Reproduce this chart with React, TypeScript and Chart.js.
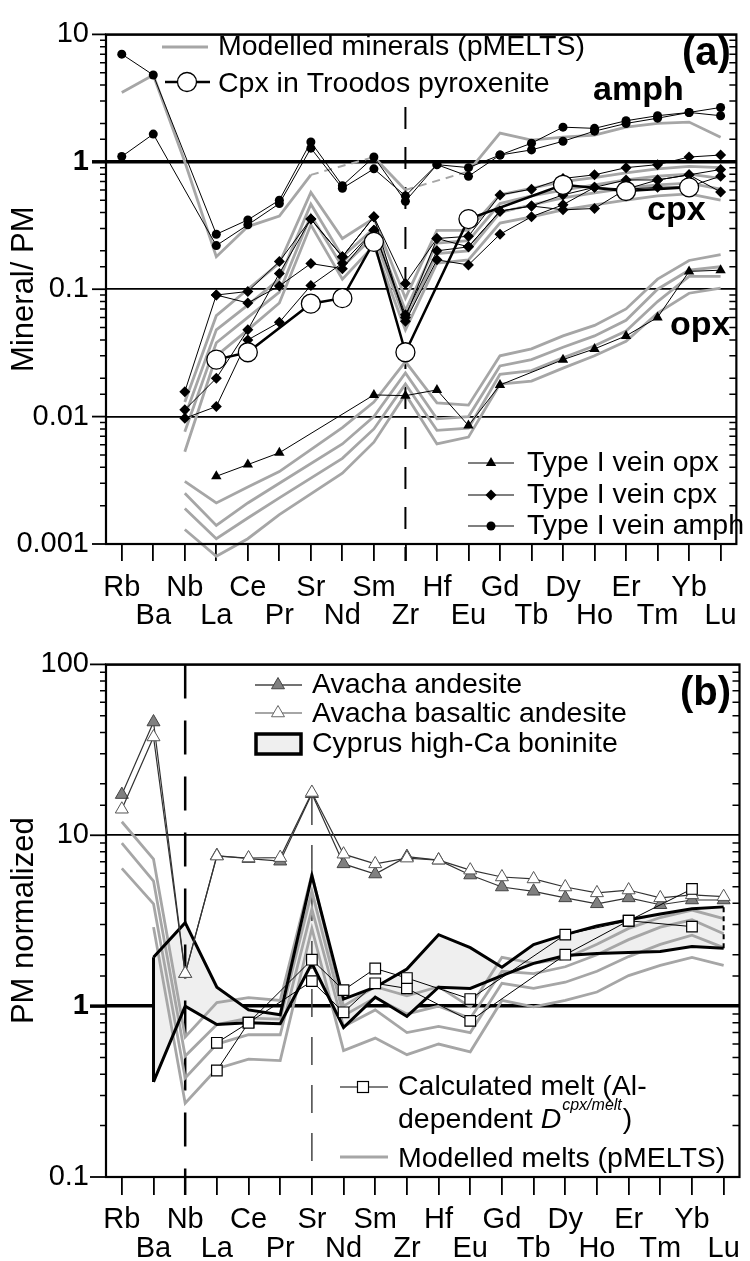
import React, { useEffect, useRef } from 'react';
import { Chart, registerables } from 'chart.js';

Chart.register(...registerables);

const FONT = '"Liberation Sans", Arial, Helvetica, sans-serif';
const MODEL_GRAY = '#a6a6a6';
const LEG = 28.5;

// ---------- categories & ticks ----------
const elements = ['Rb', 'Ba', 'Nb', 'La', 'Ce', 'Pr', 'Sr', 'Nd', 'Sm', 'Zr', 'Hf', 'Eu', 'Gd', 'Tb', 'Dy', 'Ho', 'Er', 'Tm', 'Yb', 'Lu'];
const yTickValuesA = [0.001, 0.01, 0.1, 1, 10];
const yTickLabelsA = ['0.001', '0.01', '0.1', '1', '10'];
const yTickValuesB = [0.1, 1, 10, 100];
const yTickLabelsB = ['0.1', '1', '10', '100'];

// ---------- panel (a): mineral / PM ----------
//                     Rb    Ba    Nb     La     Ce     Pr     Sr     Nd     Sm     Zr     Hf     Eu     Gd     Tb     Dy     Ho     Er     Tm     Yb     Lu
const veinAmph1 = [7.0, 4.8, null, 0.27, 0.35, 0.50, 1.43, 0.65, 1.09, 0.49, 0.95, 0.90, 1.13, 1.40, 1.87, 1.83, 2.10, 2.30, 2.44, 2.67];
const veinAmph2 = [1.1, 1.65, null, 0.22, 0.32, 0.47, 1.28, 0.62, 0.88, 0.54, 0.95, 0.77, 1.13, 1.24, 1.45, 1.74, 2.00, 2.20, 2.44, 2.30];
const veinCpx1 = [null, null, 0.0157, 0.090, 0.096, 0.165, 0.355, 0.18, 0.37, 0.111, 0.25, 0.26, 0.55, 0.61, 0.74, 0.79, 0.90, 0.95, 1.09, 1.13];
const veinCpx2 = [null, null, null, 0.090, 0.078, 0.106, 0.159, 0.145, 0.29, 0.063, 0.20, 0.215, 0.41, 0.45, 0.55, 0.63, 0.72, 0.72, 0.79, 0.87];
const veinCpx3 = [null, null, 0.0113, 0.020, 0.048, 0.133, 0.355, 0.18, 0.37, 0.056, 0.17, 0.155, 0.27, 0.37, 0.46, 0.63, 0.61, 0.63, 0.64, 0.77];
const veinCpx4 = [null, null, 0.0097, 0.012, 0.040, 0.055, 0.107, 0.16, 0.29, 0.060, 0.25, 0.215, 0.41, 0.45, 0.42, 0.43, 0.61, 0.72, 0.79, 0.58];
const veinOpx = [null, null, null, 0.0034, 0.0042, 0.0052, null, null, 0.0148, 0.0146, 0.0162, 0.0085, 0.0177, null, 0.028, 0.034, 0.043, 0.060, 0.138, 0.141];
const troodosCpx = [null, null, null, 0.028, 0.032, null, 0.077, 0.085, 0.235, 0.032, null, 0.355, null, null, 0.66, null, 0.59, null, 0.63, null];
const modelAmph = [3.5, 4.8, 1.0, 0.18, 0.31, 0.375, 0.79, null, 1.09, 0.60, null, 0.84, 1.68, 1.48, 1.56, 1.62, 1.87, 2.0, 2.05, 1.56];
const modelCpx1 = [null, null, 0.013, 0.062, 0.10, 0.16, 0.575, 0.25, 0.36, 0.085, 0.29, 0.29, 0.55, 0.62, 0.70, 0.75, 0.82, 0.88, 0.92, 0.90];
const modelCpx2 = [null, null, 0.010, 0.048, 0.075, 0.12, 0.465, 0.18, 0.30, 0.068, 0.23, 0.24, 0.47, 0.54, 0.60, 0.66, 0.72, 0.77, 0.80, 0.74];
const modelCpx3 = [null, null, 0.0076, 0.038, 0.060, 0.095, 0.38, 0.15, 0.26, 0.057, 0.19, 0.20, 0.40, 0.46, 0.52, 0.57, 0.62, 0.66, 0.68, 0.61];
const modelCpx4 = [null, null, 0.0053, 0.030, 0.048, 0.078, 0.32, 0.12, 0.22, 0.048, 0.16, 0.17, 0.33, 0.37, 0.42, 0.46, 0.50, 0.54, 0.56, 0.50];
const modelOpx1 = [null, null, 0.0031, 0.0021, 0.0028, 0.0037, null, 0.0082, 0.013, 0.027, 0.0128, 0.0123, 0.030, 0.034, 0.043, 0.052, 0.070, 0.12, 0.168, 0.187];
const modelOpx2 = [null, null, 0.0025, 0.0014, 0.0021, 0.0030, null, 0.0061, 0.010, 0.022, 0.0096, 0.0100, 0.025, 0.028, 0.035, 0.043, 0.057, 0.10, 0.141, 0.150];
const modelOpx3 = [null, null, 0.0019, 0.0011, 0.0016, 0.0023, null, 0.0047, 0.008, 0.018, 0.0078, 0.0081, 0.0215, 0.023, 0.029, 0.036, 0.047, 0.08, 0.126, 0.126];
const modelOpx4 = [null, null, 0.0013, 0.0008, 0.0011, 0.0017, null, 0.0036, 0.0063, 0.015, 0.0061, 0.0069, 0.018, 0.019, 0.024, 0.030, 0.039, 0.065, 0.093, 0.102];

// ---------- panel (b): PM normalized ----------
const avachaAndesite = [17.3, 46, 1.55, 7.6, 7.3, 7.05, 17.5, 6.8, 5.93, 7.5, 7.15, 5.85, 4.98, 4.7, 4.3, 3.97, 4.3, 3.92, 4.18, 4.18];
const avachaBasAndesite = [14.2, 37.6, 1.55, 7.55, 7.36, 7.4, 17.8, 7.75, 6.8, 7.35, 7.15, 6.25, 5.7, 5.55, 4.98, 4.6, 4.78, 4.3, 4.48, 4.37];
const boniniteUpper = [null, 1.93, 3.08, 1.29, 0.95, 0.89, 5.8, 1.1, 1.29, 1.65, 2.62, 2.2, 1.69, 2.29, 2.62, 2.95, 3.2, 3.46, 3.71, 3.81];
const boniniteLower = [null, 0.36, 1.0, 0.78, 0.80, 0.79, 1.78, 0.75, 1.13, 0.87, 1.29, 1.27, 1.51, 1.78, 1.98, 2.03, 2.06, 2.09, 2.23, 2.18];
const calcMelt1 = [null, null, null, 0.61, 0.80, null, 1.87, 1.24, 1.66, 1.46, null, 1.10, null, null, 2.62, null, 3.16, null, 2.92, null];
const calcMelt2 = [null, null, null, 0.42, 0.80, null, 1.40, 0.92, 1.36, 1.27, null, 0.82, null, null, 2.00, null, 3.16, null, 4.85, null];
const modelMelt1 = [12, 7.25, 0.66, 1.05, 1.12, 1.08, 5.9, 1.0, 1.3, 1.15, 1.3, 0.99, 1.93, 1.78, 1.9, 2.3, 2.85, 3.3, 3.65, 3.25];
const modelMelt2 = [9, 5.4, 0.51, 0.78, 0.85, 0.84, 4.7, 0.88, 1.12, 0.9, 1.0, 0.85, 1.6, 1.55, 1.7, 2.0, 2.45, 2.9, 3.2, 2.65];
const modelMelt3 = [6.4, 3.97, 0.38, 0.6, 0.68, 0.68, 3.7, 0.76, 0.95, 0.7, 0.76, 0.7, 1.36, 1.27, 1.38, 1.6, 1.95, 2.3, 2.6, 2.2];
const modelMelt4 = [null, 2.9, 0.27, 0.43, 0.49, 0.48, 2.85, 0.55, 0.65, 0.52, 0.6, 0.54, 1.08, 0.99, 1.08, 1.21, 1.51, 1.73, 1.93, 1.73];

// ---------- helpers ----------
function isDecade(v: number) {
  const l = Math.log10(v);
  return Math.abs(l - Math.round(l)) < 1e-6;
}
function isOne(v: number) {
  return Math.abs(v - 1) < 1e-9;
}
function decadeLabel(v: number, values: number[], labels: string[]) {
  for (let i = 0; i < values.length; i++) {
    if (Math.abs(Math.log10(v / values[i])) < 1e-6) return labels[i];
  }
  return '';
}

function yScale(min: number, max: number, values: number[], labels: string[], title: string) {
  return {
    type: 'logarithmic',
    min,
    max,
    afterFit: (s: any) => {
      s.width = 106;
    },
    border: { display: false },
    grid: {
      drawTicks: false,
      color: (c: any) => (c.tick && isDecade(c.tick.value) ? '#000' : 'rgba(0,0,0,0)'),
      lineWidth: (c: any) => (c.tick && isDecade(c.tick.value) ? (isOne(c.tick.value) ? 3.5 : 1.8) : 0),
    },
    ticks: {
      autoSkip: false,
      padding: 17,
      color: '#000',
      font: (c: any) => ({ family: FONT, size: 29, weight: c.tick && isOne(c.tick.value) ? 'bold' : 'normal' }),
      callback: (v: any) => decadeLabel(Number(v), values, labels),
    },
    title: {
      display: true,
      text: title,
      color: '#000',
      font: { family: FONT, size: 31, lineHeight: 1.2 },
      padding: { top: 6, bottom: 0 },
    },
  };
}

function xScale(height: number, tickLen: number, pad: number, lh: string) {
  return {
    type: 'category',
    offset: true,
    afterFit: (s: any) => {
      s.height = height;
    },
    border: { display: false },
    grid: {
      drawOnChartArea: false,
      drawTicks: true,
      tickLength: tickLen,
      tickWidth: 1.8,
      tickColor: '#000',
      color: '#000',
      lineWidth: 1.8,
    },
    ticks: {
      autoSkip: false,
      maxRotation: 0,
      minRotation: 0,
      padding: pad,
      color: '#000',
      font: { family: FONT, size: 29, lineHeight: lh },
      callback: (_v: any, i: number) => (i % 2 === 0 ? [elements[i], ''] : ['', elements[i]]),
    },
  };
}

function drawAxesDecor(chart: any, majorLen: number) {
  const { ctx, chartArea: a } = chart;
  const ys = chart.scales.y;
  ctx.save();
  ctx.strokeStyle = '#000';
  for (const t of ys.ticks) {
    const py = ys.getPixelForValue(t.value);
    if (py < a.top - 0.5 || py > a.bottom + 0.5) continue;
    ctx.beginPath();
    if (isDecade(t.value)) {
      ctx.lineWidth = isOne(t.value) ? 3.5 : 1.8;
      ctx.moveTo(a.left - majorLen, py);
      ctx.lineTo(a.left, py);
    } else {
      ctx.lineWidth = 1.5;
      ctx.moveTo(a.left - 6, py);
      ctx.lineTo(a.left, py);
      ctx.moveTo(a.right - 7, py);
      ctx.lineTo(a.right, py);
    }
    ctx.stroke();
  }
  ctx.lineWidth = 2.2;
  ctx.strokeRect(a.left, a.top, a.right - a.left, a.bottom - a.top);
  ctx.restore();
}

function txt(ctx: CanvasRenderingContext2D, s: string, x: number, y: number, size: number, weight = 'normal', style = 'normal') {
  ctx.font = `${style} ${weight} ${size}px ${FONT}`;
  ctx.fillStyle = '#000';
  ctx.textAlign = 'left';
  ctx.textBaseline = 'alphabetic';
  ctx.fillText(s, x, y);
  return ctx.measureText(s).width;
}

function hline(ctx: CanvasRenderingContext2D, x1: number, x2: number, y: number, color: string, w: number) {
  ctx.beginPath();
  ctx.strokeStyle = color;
  ctx.lineWidth = w;
  ctx.moveTo(x1, y);
  ctx.lineTo(x2, y);
  ctx.stroke();
}

function tri(ctx: CanvasRenderingContext2D, x: number, y: number, r: number, fill: string, stroke: string | null) {
  ctx.beginPath();
  ctx.moveTo(x, y - r);
  ctx.lineTo(x + r * 0.866, y + r * 0.5);
  ctx.lineTo(x - r * 0.866, y + r * 0.5);
  ctx.closePath();
  ctx.fillStyle = fill;
  ctx.fill();
  if (stroke) {
    ctx.strokeStyle = stroke;
    ctx.lineWidth = 1;
    ctx.stroke();
  }
}

function vdash(ctx: CanvasRenderingContext2D, x: number, y1: number, y2: number, color: string, w: number, dash: number[]) {
  ctx.save();
  ctx.strokeStyle = color;
  ctx.lineWidth = w;
  ctx.setLineDash(dash);
  ctx.beginPath();
  ctx.moveTo(x, y1);
  ctx.lineTo(x, y2);
  ctx.stroke();
  ctx.restore();
}

// ---------- panel (a) plugin ----------
const extrasA = {
  id: 'extrasA',
  beforeDatasetsDraw(chart: any) {
    const xz = chart.scales.x.getPixelForValue(elements.indexOf('Zr'));
    vdash(chart.ctx, xz, 107, chart.chartArea.bottom + 17, '#000', 2, [22, 18]);
  },
  afterDraw(chart: any) {
    const ctx = chart.ctx as CanvasRenderingContext2D;
    drawAxesDecor(chart, 14);
    ctx.save();
    // top legend
    hline(ctx, 162, 208, 47, MODEL_GRAY, 3);
    txt(ctx, 'Modelled minerals (pMELTS)', 218, 55, LEG);
    hline(ctx, 165, 210, 82, '#000', 2.5);
    ctx.beginPath();
    ctx.arc(187, 82, 9.5, 0, Math.PI * 2);
    ctx.fillStyle = '#fff';
    ctx.fill();
    ctx.strokeStyle = '#000';
    ctx.lineWidth = 1.3;
    ctx.stroke();
    txt(ctx, 'Cpx in Troodos pyroxenite', 218, 92, LEG);
    // bottom right legend
    hline(ctx, 468, 514, 463, '#000', 1.2);
    tri(ctx, 491, 463, 6, '#000', null);
    txt(ctx, 'Type I vein opx', 527, 471, LEG);
    hline(ctx, 468, 514, 495, '#000', 1.2);
    ctx.beginPath();
    ctx.moveTo(491, 489.5);
    ctx.lineTo(496.5, 495);
    ctx.lineTo(491, 500.5);
    ctx.lineTo(485.5, 495);
    ctx.closePath();
    ctx.fillStyle = '#000';
    ctx.fill();
    txt(ctx, 'Type I vein cpx', 527, 503, LEG);
    hline(ctx, 468, 514, 526, '#000', 1.2);
    ctx.beginPath();
    ctx.arc(491, 526, 4.5, 0, Math.PI * 2);
    ctx.fillStyle = '#000';
    ctx.fill();
    txt(ctx, 'Type I vein amph', 527, 534, LEG);
    // mineral labels
    txt(ctx, 'amph', 593, 100, 34, 'bold');
    txt(ctx, 'cpx', 647, 220, 34, 'bold');
    txt(ctx, 'opx', 670, 335, 34, 'bold');
    txt(ctx, '(a)', 682, 65, 40, 'bold');
    ctx.restore();
  },
};

// ---------- panel (b) plugin (canvas top = 630) ----------
const extrasB = {
  id: 'extrasB',
  beforeDatasetsDraw(chart: any) {
    const x = chart.scales.x;
    const a = chart.chartArea;
    vdash(chart.ctx, x.getPixelForValue(elements.indexOf('Nb')), a.top, a.bottom + 18, '#000', 2.5, [34, 22]);
    vdash(chart.ctx, x.getPixelForValue(elements.indexOf('Sr')), 167, 532, '#444', 1.5, [28, 20]);
  },
  afterDraw(chart: any) {
    const ctx = chart.ctx as CanvasRenderingContext2D;
    drawAxesDecor(chart, 16);
    ctx.save();
    // top legend
    hline(ctx, 255, 302, 55, '#444', 1.5);
    tri(ctx, 278, 55, 7.5, '#808080', '#444');
    txt(ctx, 'Avacha andesite', 312, 63, LEG);
    hline(ctx, 255, 302, 83, '#888', 1.5);
    tri(ctx, 278, 83, 7.5, '#fff', '#666');
    txt(ctx, 'Avacha basaltic andesite', 312, 92, LEG);
    ctx.fillStyle = '#efefef';
    ctx.fillRect(256, 104, 45, 20);
    ctx.strokeStyle = '#000';
    ctx.lineWidth = 3.5;
    ctx.strokeRect(256, 104, 45, 20);
    txt(ctx, 'Cyprus high-Ca boninite', 312, 122, LEG);
    txt(ctx, '(b)', 680, 75, 40, 'bold');
    // bottom legend
    hline(ctx, 340, 388, 457, '#000', 1.2);
    ctx.fillStyle = '#fff';
    ctx.fillRect(357.5, 451.5, 11, 11);
    ctx.strokeStyle = '#000';
    ctx.lineWidth = 1.2;
    ctx.strokeRect(357.5, 451.5, 11, 11);
    txt(ctx, 'Calculated melt (Al-', 398, 465, LEG);
    let xx = 398;
    xx += txt(ctx, 'dependent ', xx, 498, LEG);
    xx += txt(ctx, 'D', xx, 498, LEG, 'normal', 'italic');
    xx += txt(ctx, 'cpx/melt', xx + 1, 480, 16, 'normal', 'italic') + 2;
    txt(ctx, ')', xx, 498, LEG);
    hline(ctx, 340, 388, 527, MODEL_GRAY, 3);
    txt(ctx, 'Modelled melts (pMELTS)', 398, 537, LEG);
    ctx.restore();
  },
};

// ---------- dataset builders ----------
const grayLine = (label: string, data: any[], extra: any = {}) => ({
  label,
  data,
  borderColor: MODEL_GRAY,
  borderWidth: 2.8,
  pointRadius: 0,
  spanGaps: true,
  ...extra,
});
const markerLine = (label: string, data: any[], style: string, radius: number, extra: any = {}) => ({
  label,
  data,
  borderColor: '#000',
  borderWidth: 1,
  pointStyle: style,
  pointRadius: radius,
  pointBackgroundColor: '#000',
  pointBorderColor: '#000',
  pointBorderWidth: 0,
  spanGaps: true,
  ...extra,
});

function configA(): any {
  return {
    type: 'line',
    data: {
      labels: elements,
      datasets: [
        markerLine('Cpx in Troodos pyroxenite', troodosCpx, 'circle', 9.5, {
          borderWidth: 2.5,
          pointBackgroundColor: '#fff',
          pointBorderWidth: 1.3,
        }),
        markerLine('Type I vein amph 1', veinAmph1, 'circle', 4.5),
        markerLine('Type I vein amph 2', veinAmph2, 'circle', 4.5),
        markerLine('Type I vein cpx 1', veinCpx1, 'rectRot', 5.5),
        markerLine('Type I vein cpx 2', veinCpx2, 'rectRot', 5.5),
        markerLine('Type I vein cpx 3', veinCpx3, 'rectRot', 5.5),
        markerLine('Type I vein cpx 4', veinCpx4, 'rectRot', 5.5),
        markerLine('Type I vein opx', veinOpx, 'triangle', 6),
        grayLine('Modelled amph', modelAmph, {
          segment: {
            borderDash: (c: any) => (c.p0.skip || c.p1.skip ? [8, 6] : undefined),
            borderWidth: (c: any) => (c.p0.skip || c.p1.skip ? 2 : undefined),
          },
        }),
        grayLine('Modelled cpx 1', modelCpx1),
        grayLine('Modelled cpx 2', modelCpx2),
        grayLine('Modelled cpx 3', modelCpx3),
        grayLine('Modelled cpx 4', modelCpx4),
        grayLine('Modelled opx 1', modelOpx1, { clip: false }),
        grayLine('Modelled opx 2', modelOpx2, { clip: false }),
        grayLine('Modelled opx 3', modelOpx3, { clip: false }),
        grayLine('Modelled opx 4', modelOpx4, { clip: false }),
      ],
    },
    options: {
      responsive: false,
      animation: false,
      devicePixelRatio: 1,
      events: [],
      layout: { padding: { top: 28, right: 6, left: 0, bottom: 0 } },
      elements: { line: { tension: 0 } },
      plugins: { legend: { display: false }, tooltip: { enabled: false } },
      scales: {
        x: xScale(86, 17, 13, '28px'),
        y: yScale(0.001, 10, yTickValuesA, yTickLabelsA, 'Mineral/ PM'),
      },
    },
    plugins: [extrasA],
  };
}

function configB(): any {
  return {
    type: 'line',
    data: {
      labels: elements,
      datasets: [
        markerLine('Calculated melt 1', calcMelt1, 'rect', 7.5, { pointBackgroundColor: '#fff', pointBorderWidth: 1.2 }),
        markerLine('Calculated melt 2', calcMelt2, 'rect', 7.5, { pointBackgroundColor: '#fff', pointBorderWidth: 1.2 }),
        markerLine('Avacha basaltic andesite', avachaBasAndesite, 'triangle', 7.5, {
          borderColor: '#333',
          borderWidth: 1.2,
          pointBackgroundColor: '#fff',
          pointBorderColor: '#555',
          pointBorderWidth: 1,
        }),
        markerLine('Avacha andesite', avachaAndesite, 'triangle', 7.5, {
          borderColor: '#333',
          borderWidth: 1.2,
          pointBackgroundColor: '#808080',
          pointBorderColor: '#444',
          pointBorderWidth: 1,
        }),
        {
          label: 'Cyprus high-Ca boninite',
          data: boniniteUpper,
          borderColor: '#000',
          borderWidth: 3,
          pointRadius: 0,
          fill: '+1',
          backgroundColor: '#efefef',
        },
        {
          label: 'Cyprus high-Ca boninite (lower)',
          data: boniniteLower,
          borderColor: '#000',
          borderWidth: 3,
          pointRadius: 0,
          fill: false,
        },
        {
          label: 'boninite Ba edge',
          data: [
            { x: 'Ba', y: boniniteLower[1] },
            { x: 'Ba', y: boniniteUpper[1] },
          ],
          borderColor: '#000',
          borderWidth: 3,
          pointRadius: 0,
        },
        {
          label: 'boninite Lu edge',
          data: [
            { x: 'Lu', y: boniniteLower[19] },
            { x: 'Lu', y: boniniteUpper[19] },
          ],
          borderColor: '#000',
          borderWidth: 2,
          borderDash: [5, 4],
          pointRadius: 0,
        },
        grayLine('Modelled melt 1', modelMelt1),
        grayLine('Modelled melt 2', modelMelt2),
        grayLine('Modelled melt 3', modelMelt3),
        grayLine('Modelled melt 4', modelMelt4),
      ],
    },
    options: {
      responsive: false,
      animation: false,
      devicePixelRatio: 1,
      events: [],
      layout: { padding: { top: 32, right: 6, left: 0, bottom: 0 } },
      elements: { line: { tension: 0 } },
      plugins: {
        legend: { display: false },
        tooltip: { enabled: false },
        filler: { drawTime: 'beforeDatasetsDraw' },
      },
      scales: {
        x: xScale(84, 18, 10, '29px'),
        y: yScale(0.1, 100, yTickValuesB, yTickLabelsB, 'PM normalized'),
      },
    },
    plugins: [extrasB],
  };
}

export default function App() {
  const refA = useRef<HTMLCanvasElement>(null);
  const refB = useRef<HTMLCanvasElement>(null);
  useEffect(() => {
    Chart.defaults.font.family = FONT;
    Chart.defaults.color = '#000';
    const a = new Chart(refA.current as HTMLCanvasElement, configA());
    const b = new Chart(refB.current as HTMLCanvasElement, configB());
    return () => {
      a.destroy();
      b.destroy();
    };
  }, []);
  return (
    <div style={{ position: 'absolute', left: 0, top: 0, width: 750, height: 1261, background: '#fff' }}>
      <canvas ref={refA} width={750} height={630} style={{ position: 'absolute', left: 0, top: 0, width: 750, height: 630, display: 'block' }} />
      <canvas ref={refB} width={750} height={631} style={{ position: 'absolute', left: 0, top: 630, width: 750, height: 631, display: 'block' }} />
    </div>
  );
}
